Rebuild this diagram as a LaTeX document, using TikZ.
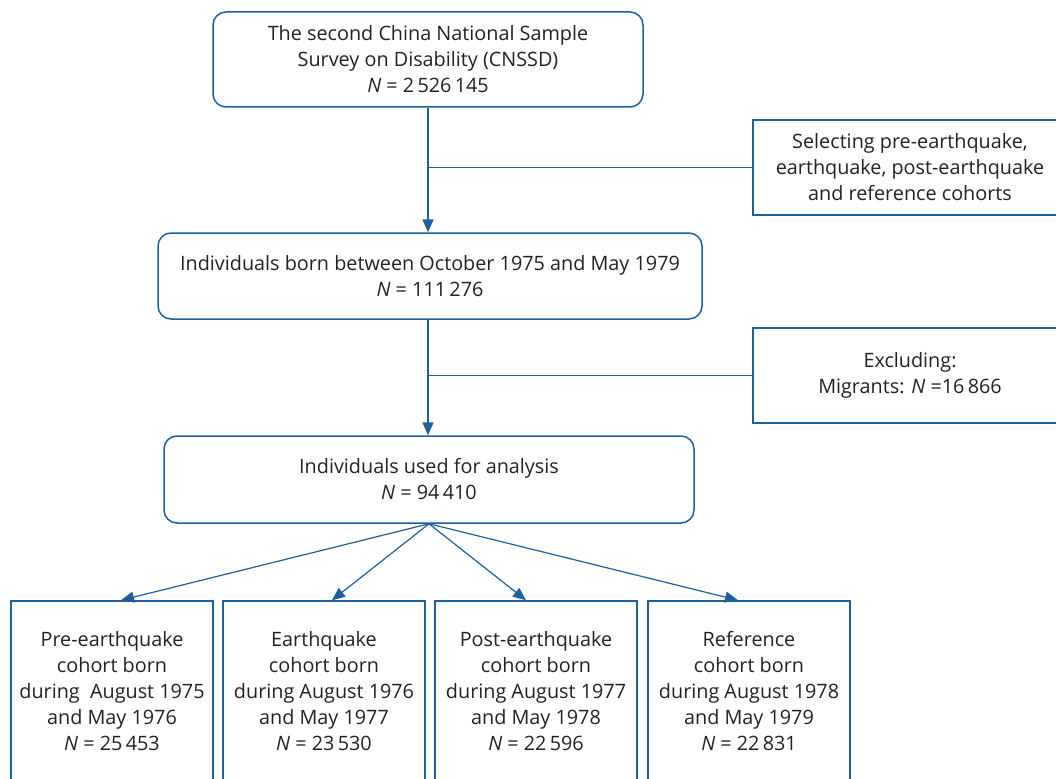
\documentclass[tikz,border=0pt]{standalone}
\usepackage{fontspec}
\setmainfont{Open Sans}
\usetikzlibrary{arrows.meta}
\definecolor{flowblue}{HTML}{1F5F9E}
\definecolor{flowtext}{HTML}{222222}
\begin{document}
\begin{tikzpicture}[x=1pt,y=-1pt,
    box/.style={draw=flowblue,line width=1.5pt,text=flowtext,align=center,inner sep=0pt,
        font=\fontsize{19.8}{26}\selectfont},
    roundbox/.style={box,rounded corners=13pt},
    cohort/.style={box,minimum width=202pt,minimum height=180pt},
    flow/.style={draw=flowblue,line width=1.5pt,-{Triangle[length=13pt,width=11pt]}},
    fan/.style={draw=flowblue,line width=1.2pt,-{Triangle[length=13pt,width=11pt]}}]
    \useasboundingbox (0,0) rectangle (1056,778);
    \clip (0,0) rectangle (1056,778);
    \node[roundbox,minimum width=430pt,minimum height=95pt] (survey) at (428,59.5)
        {The second China National Sample\\Survey on Disability (CNSSD)\\\textit{N} = 2\,526\,145};
    \node[box,minimum width=314pt,minimum height=95pt] (select) at (910,167.5)
        {Selecting pre-earthquake,\\earthquake, post-earthquake\\and reference cohorts};
    \node[roundbox,minimum width=544pt,minimum height=86pt] (born) at (430,276)
        {Individuals born between October 1975 and May 1979\\\textit{N} = 111\,276};
    \node[box,minimum width=314pt,minimum height=95pt] (exclude) at (910,375.5)
        {Excluding:\\Migrants: \textit{N} =16\,866};
    \node[roundbox,minimum width=530pt,minimum height=87pt] (analysis) at (429,479.5)
        {Individuals used for analysis\\\textit{N} = 94\,410};
    \node[cohort] (pre) at (112,691)
        {Pre-earthquake\\cohort born\\during~ August 1975\\and May 1976\\\textit{N} = 25\,453};
    \node[cohort] (quake) at (324,691)
        {Earthquake\\cohort born\\during August 1976\\and May 1977\\\textit{N} = 23\,530};
    \node[cohort] (post) at (536,691)
        {Post-earthquake\\cohort born\\during August 1977\\and May 1978\\\textit{N} = 22\,596};
    \node[cohort] (ref) at (749,691)
        {Reference\\cohort born\\during August 1978\\and May 1979\\\textit{N} = 22\,831};
    \draw[flow] (survey.south) -- (survey.south |- born.north);
    \draw[draw=flowblue,line width=1.5pt] (select.west) -- (select.west -| survey.south);
    \draw[flow] (born.south -| survey.south) -- (survey.south |- analysis.north);
    \draw[draw=flowblue,line width=1.5pt] (exclude.west) -- (exclude.west -| survey.south);
    \draw[fan] (analysis.south) -- ([xshift=9pt]pre.north);
    \draw[fan] (analysis.south) -- ([xshift=8pt]quake.north);
    \draw[fan] (analysis.south) -- ([xshift=-10pt]post.north);
    \draw[fan] (analysis.south) -- ([xshift=-11pt]ref.north);
\end{tikzpicture}
\end{document}
